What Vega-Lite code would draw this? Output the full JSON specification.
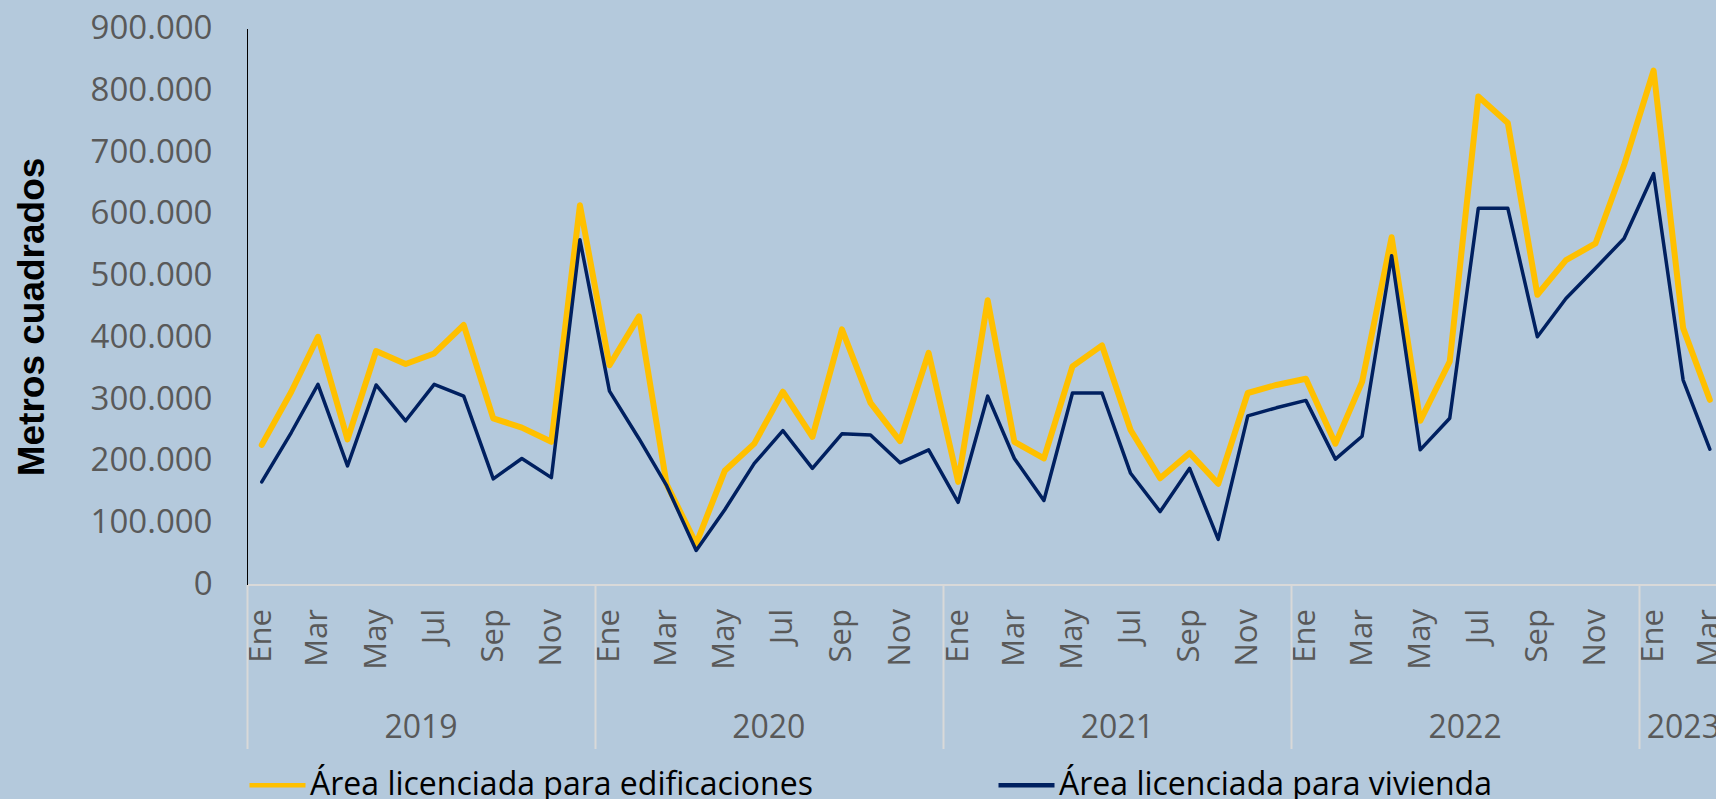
{
  "$schema": "https://vega.github.io/schema/vega-lite/v6.json",
  "width": 1469,
  "height": 556,
  "autosize": {"type": "none"},
  "padding": {"left": 247, "top": 28.5, "right": 0, "bottom": 214.5},
  "background": "#B4C9DC",
  "config": {
    "view": {"stroke": null},
    "locale": {"number": {"decimal": ",", "thousands": ".", "grouping": [3], "currency": ["$", ""]}},
    "axis": {"grid": false}
  },
  "data": {
    "values": [
      {"fecha": "2019-01-01", "serie": "Área licenciada para edificaciones", "m2": 226000},
      {"fecha": "2019-02-01", "serie": "Área licenciada para edificaciones", "m2": 312000},
      {"fecha": "2019-03-01", "serie": "Área licenciada para edificaciones", "m2": 401000},
      {"fecha": "2019-04-01", "serie": "Área licenciada para edificaciones", "m2": 235000},
      {"fecha": "2019-05-01", "serie": "Área licenciada para edificaciones", "m2": 378000},
      {"fecha": "2019-06-01", "serie": "Área licenciada para edificaciones", "m2": 357000},
      {"fecha": "2019-07-01", "serie": "Área licenciada para edificaciones", "m2": 374000},
      {"fecha": "2019-08-01", "serie": "Área licenciada para edificaciones", "m2": 420000},
      {"fecha": "2019-09-01", "serie": "Área licenciada para edificaciones", "m2": 269000},
      {"fecha": "2019-10-01", "serie": "Área licenciada para edificaciones", "m2": 254000},
      {"fecha": "2019-11-01", "serie": "Área licenciada para edificaciones", "m2": 231000},
      {"fecha": "2019-12-01", "serie": "Área licenciada para edificaciones", "m2": 614000},
      {"fecha": "2020-01-01", "serie": "Área licenciada para edificaciones", "m2": 355000},
      {"fecha": "2020-02-01", "serie": "Área licenciada para edificaciones", "m2": 434000},
      {"fecha": "2020-03-01", "serie": "Área licenciada para edificaciones", "m2": 162000},
      {"fecha": "2020-04-01", "serie": "Área licenciada para edificaciones", "m2": 66000},
      {"fecha": "2020-05-01", "serie": "Área licenciada para edificaciones", "m2": 184000},
      {"fecha": "2020-06-01", "serie": "Área licenciada para edificaciones", "m2": 228000},
      {"fecha": "2020-07-01", "serie": "Área licenciada para edificaciones", "m2": 312000},
      {"fecha": "2020-08-01", "serie": "Área licenciada para edificaciones", "m2": 239000},
      {"fecha": "2020-09-01", "serie": "Área licenciada para edificaciones", "m2": 413000},
      {"fecha": "2020-10-01", "serie": "Área licenciada para edificaciones", "m2": 294000},
      {"fecha": "2020-11-01", "serie": "Área licenciada para edificaciones", "m2": 232000},
      {"fecha": "2020-12-01", "serie": "Área licenciada para edificaciones", "m2": 375000},
      {"fecha": "2021-01-01", "serie": "Área licenciada para edificaciones", "m2": 166000},
      {"fecha": "2021-02-01", "serie": "Área licenciada para edificaciones", "m2": 460000},
      {"fecha": "2021-03-01", "serie": "Área licenciada para edificaciones", "m2": 231000},
      {"fecha": "2021-04-01", "serie": "Área licenciada para edificaciones", "m2": 204000},
      {"fecha": "2021-05-01", "serie": "Área licenciada para edificaciones", "m2": 353000},
      {"fecha": "2021-06-01", "serie": "Área licenciada para edificaciones", "m2": 387000},
      {"fecha": "2021-07-01", "serie": "Área licenciada para edificaciones", "m2": 250000},
      {"fecha": "2021-08-01", "serie": "Área licenciada para edificaciones", "m2": 172000},
      {"fecha": "2021-09-01", "serie": "Área licenciada para edificaciones", "m2": 213000},
      {"fecha": "2021-10-01", "serie": "Área licenciada para edificaciones", "m2": 163000},
      {"fecha": "2021-11-01", "serie": "Área licenciada para edificaciones", "m2": 310000},
      {"fecha": "2021-12-01", "serie": "Área licenciada para edificaciones", "m2": 323000},
      {"fecha": "2022-01-01", "serie": "Área licenciada para edificaciones", "m2": 333000},
      {"fecha": "2022-02-01", "serie": "Área licenciada para edificaciones", "m2": 228000},
      {"fecha": "2022-03-01", "serie": "Área licenciada para edificaciones", "m2": 328000},
      {"fecha": "2022-04-01", "serie": "Área licenciada para edificaciones", "m2": 562000},
      {"fecha": "2022-05-01", "serie": "Área licenciada para edificaciones", "m2": 265000},
      {"fecha": "2022-06-01", "serie": "Área licenciada para edificaciones", "m2": 361000},
      {"fecha": "2022-07-01", "serie": "Área licenciada para edificaciones", "m2": 790000},
      {"fecha": "2022-08-01", "serie": "Área licenciada para edificaciones", "m2": 747000},
      {"fecha": "2022-09-01", "serie": "Área licenciada para edificaciones", "m2": 469000},
      {"fecha": "2022-10-01", "serie": "Área licenciada para edificaciones", "m2": 525000},
      {"fecha": "2022-11-01", "serie": "Área licenciada para edificaciones", "m2": 552000},
      {"fecha": "2022-12-01", "serie": "Área licenciada para edificaciones", "m2": 679000},
      {"fecha": "2023-01-01", "serie": "Área licenciada para edificaciones", "m2": 832000},
      {"fecha": "2023-02-01", "serie": "Área licenciada para edificaciones", "m2": 415000},
      {"fecha": "2023-03-01", "serie": "Área licenciada para edificaciones", "m2": 299000},
      {"fecha": "2019-01-01", "serie": "Área licenciada para vivienda", "m2": 166000},
      {"fecha": "2019-02-01", "serie": "Área licenciada para vivienda", "m2": 246000},
      {"fecha": "2019-03-01", "serie": "Área licenciada para vivienda", "m2": 324000},
      {"fecha": "2019-04-01", "serie": "Área licenciada para vivienda", "m2": 192000},
      {"fecha": "2019-05-01", "serie": "Área licenciada para vivienda", "m2": 323000},
      {"fecha": "2019-06-01", "serie": "Área licenciada para vivienda", "m2": 265000},
      {"fecha": "2019-07-01", "serie": "Área licenciada para vivienda", "m2": 324000},
      {"fecha": "2019-08-01", "serie": "Área licenciada para vivienda", "m2": 305000},
      {"fecha": "2019-09-01", "serie": "Área licenciada para vivienda", "m2": 171000},
      {"fecha": "2019-10-01", "serie": "Área licenciada para vivienda", "m2": 204000},
      {"fecha": "2019-11-01", "serie": "Área licenciada para vivienda", "m2": 173000},
      {"fecha": "2019-12-01", "serie": "Área licenciada para vivienda", "m2": 558000},
      {"fecha": "2020-01-01", "serie": "Área licenciada para vivienda", "m2": 313000},
      {"fecha": "2020-02-01", "serie": "Área licenciada para vivienda", "m2": 236000},
      {"fecha": "2020-03-01", "serie": "Área licenciada para vivienda", "m2": 160000},
      {"fecha": "2020-04-01", "serie": "Área licenciada para vivienda", "m2": 55000},
      {"fecha": "2020-05-01", "serie": "Área licenciada para vivienda", "m2": 121000},
      {"fecha": "2020-06-01", "serie": "Área licenciada para vivienda", "m2": 196000},
      {"fecha": "2020-07-01", "serie": "Área licenciada para vivienda", "m2": 249000},
      {"fecha": "2020-08-01", "serie": "Área licenciada para vivienda", "m2": 188000},
      {"fecha": "2020-09-01", "serie": "Área licenciada para vivienda", "m2": 244000},
      {"fecha": "2020-10-01", "serie": "Área licenciada para vivienda", "m2": 242000},
      {"fecha": "2020-11-01", "serie": "Área licenciada para vivienda", "m2": 197000},
      {"fecha": "2020-12-01", "serie": "Área licenciada para vivienda", "m2": 218000},
      {"fecha": "2021-01-01", "serie": "Área licenciada para vivienda", "m2": 133000},
      {"fecha": "2021-02-01", "serie": "Área licenciada para vivienda", "m2": 305000},
      {"fecha": "2021-03-01", "serie": "Área licenciada para vivienda", "m2": 204000},
      {"fecha": "2021-04-01", "serie": "Área licenciada para vivienda", "m2": 136000},
      {"fecha": "2021-05-01", "serie": "Área licenciada para vivienda", "m2": 310000},
      {"fecha": "2021-06-01", "serie": "Área licenciada para vivienda", "m2": 310000},
      {"fecha": "2021-07-01", "serie": "Área licenciada para vivienda", "m2": 180000},
      {"fecha": "2021-08-01", "serie": "Área licenciada para vivienda", "m2": 118000},
      {"fecha": "2021-09-01", "serie": "Área licenciada para vivienda", "m2": 188000},
      {"fecha": "2021-10-01", "serie": "Área licenciada para vivienda", "m2": 73000},
      {"fecha": "2021-11-01", "serie": "Área licenciada para vivienda", "m2": 273000},
      {"fecha": "2021-12-01", "serie": "Área licenciada para vivienda", "m2": 286000},
      {"fecha": "2022-01-01", "serie": "Área licenciada para vivienda", "m2": 298000},
      {"fecha": "2022-02-01", "serie": "Área licenciada para vivienda", "m2": 203000},
      {"fecha": "2022-03-01", "serie": "Área licenciada para vivienda", "m2": 240000},
      {"fecha": "2022-04-01", "serie": "Área licenciada para vivienda", "m2": 532000},
      {"fecha": "2022-05-01", "serie": "Área licenciada para vivienda", "m2": 218000},
      {"fecha": "2022-06-01", "serie": "Área licenciada para vivienda", "m2": 269000},
      {"fecha": "2022-07-01", "serie": "Área licenciada para vivienda", "m2": 609000},
      {"fecha": "2022-08-01", "serie": "Área licenciada para vivienda", "m2": 609000},
      {"fecha": "2022-09-01", "serie": "Área licenciada para vivienda", "m2": 401000},
      {"fecha": "2022-10-01", "serie": "Área licenciada para vivienda", "m2": 463000},
      {"fecha": "2022-11-01", "serie": "Área licenciada para vivienda", "m2": 512000},
      {"fecha": "2022-12-01", "serie": "Área licenciada para vivienda", "m2": 560000},
      {"fecha": "2023-01-01", "serie": "Área licenciada para vivienda", "m2": 665000},
      {"fecha": "2023-02-01", "serie": "Área licenciada para vivienda", "m2": 331000},
      {"fecha": "2023-03-01", "serie": "Área licenciada para vivienda", "m2": 219000}
    ]
  },
  "resolve": {"axis": {"x": "independent"}},
  "encoding": {
    "y": {
      "field": "m2",
      "type": "quantitative",
      "scale": {"domain": [0, 900000], "nice": false, "zero": true},
      "axis": {
        "values": [0, 100000, 200000, 300000, 400000, 500000, 600000, 700000, 800000, 900000],
        "format": ",d",
        "title": "Metros cuadrados",
        "titleFont": "Liberation Sans",
        "titleFontSize": 37,
        "titleFontWeight": "bold",
        "titleColor": "#000000",
        "titleAngle": 270,
        "titleBaseline": "alphabetic",
        "titleAlign": "center",
        "titleX": -204,
        "titleY": 288,
        "labelFont": "Open Sans",
        "labelFontSize": 33,
        "labelColor": "#595959",
        "labelPadding": 35,
        "ticks": false,
        "domain": true,
        "domainColor": "#000000",
        "domainWidth": 1,
        "grid": false
      }
    },
    "color": {
      "field": "serie",
      "type": "nominal",
      "scale": {
        "domain": ["Área licenciada para edificaciones", "Área licenciada para vivienda"],
        "range": ["#FFC000", "#002060"]
      },
      "legend": {
        "orient": "none",
        "legendX": 0,
        "legendY": 726,
        "direction": "horizontal",
        "title": null,
        "symbolType": "stroke",
        "symbolSize": 3136,
        "symbolStrokeWidth": 4.5,
        "labelFont": "Open Sans",
        "labelFontSize": 32,
        "labelColor": "#000000",
        "labelOffset": 2,
        "labelLimit": 1000,
        "columnPadding": 176,
        "padding": 0
      }
    }
  },
  "layer": [
    {
      "transform": [{"filter": "datum.serie == 'Área licenciada para edificaciones'"}],
      "mark": {"type": "line", "strokeWidth": 6, "strokeJoin": "round", "strokeCap": "round"},
      "encoding": {
        "x": {
          "field": "fecha",
          "type": "temporal",
          "scale": {
            "type": "utc",
            "nice": false,
            "domain": [
              {"year": 2018, "month": 12, "date": 16, "hours": 12, "utc": true},
              {"year": 2023, "month": 3, "date": 7, "hours": 12, "utc": true}
            ]
          },
          "axis": {
            "orient": "bottom",
            "title": null,
            "tickCount": {"interval": "month", "step": 2},
            "labelExpr": "['Ene','Feb','Mar','Abr','May','Jun','Jul','Ago','Sep','Oct','Nov','Dic'][utcmonth(datum.value)]",
            "labelAngle": 270,
            "labelAlign": "right",
            "labelBaseline": "middle",
            "labelPadding": 24,
            "labelFont": "Open Sans",
            "labelFontSize": 31,
            "labelColor": "#595959",
            "labelFlush": false,
            "labelOverlap": false,
            "labelBound": false,
            "ticks": false,
            "domain": true,
            "domainColor": "#D9D9D9",
            "domainWidth": 2,
            "grid": false
          }
        }
      }
    },
    {
      "transform": [{"filter": "datum.serie == 'Área licenciada para vivienda'"}],
      "mark": {"type": "line", "strokeWidth": 3.5, "strokeJoin": "round", "strokeCap": "round"},
      "encoding": {
        "x": {
          "field": "fecha",
          "type": "temporal",
          "axis": {
            "orient": "bottom",
            "title": null,
            "values": [
              {"year": 2018, "month": 12, "date": 16, "hours": 12, "utc": true},
              {"year": 2019, "month": 12, "date": 16, "hours": 12, "utc": true},
              {"year": 2020, "month": 12, "date": 16, "hours": 12, "utc": true},
              {"year": 2021, "month": 12, "date": 16, "hours": 12, "utc": true},
              {"year": 2022, "month": 12, "date": 16, "hours": 12, "utc": true}
            ],
            "labelExpr": "utcyear(datum.value) + 1",
            "labelOffset": {"condition": {"test": "utcyear(datum.value) == 2022", "value": 44}, "value": 173.5},
            "labelAngle": 0,
            "labelAlign": "center",
            "labelBaseline": "middle",
            "labelPadding": -21,
            "labelFont": "Open Sans",
            "labelFontSize": 32,
            "labelColor": "#595959",
            "labelFlush": false,
            "labelOverlap": false,
            "labelBound": false,
            "ticks": true,
            "tickSize": 164,
            "tickColor": "#D9D9D9",
            "tickWidth": 2,
            "domain": false,
            "grid": false
          }
        }
      }
    }
  ]
}
